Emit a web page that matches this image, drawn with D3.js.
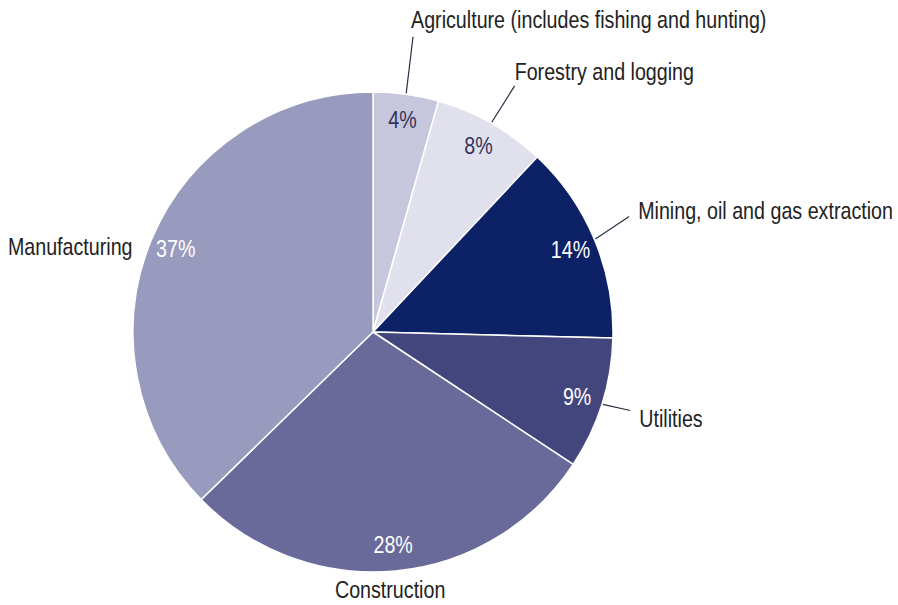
<!DOCTYPE html>
<html>
<head>
<meta charset="utf-8">
<script src="https://cdn.jsdelivr.net/npm/d3@7"></script>
<style>
  html, body { margin: 0; padding: 0; background: #ffffff; }
  svg text { font-family: "Liberation Sans Narrow", "Arial Narrow", "Liberation Sans", Arial, sans-serif; }
</style>
</head>
<body>
<svg id="chart" width="898" height="605"></svg>
<script>
// ---- data ----
const categories = [
  "Agriculture (includes fishing and hunting)",
  "Forestry and logging",
  "Mining, oil and gas extraction",
  "Utilities",
  "Construction",
  "Manufacturing"
];
const values = [4.4, 7.6, 13.4, 8.9, 28.4, 37.3];
const percentLabels = ["4%", "8%", "14%", "9%", "28%", "37%"];
const colors = ["#c6c6dc", "#e1e1ee", "#0d2166", "#43467d", "#696a9a", "#989bbe"];
const percentColors = ["#33335a", "#33335a", "#ffffff", "#ffffff", "#ffffff", "#ffffff"];

// ---- layout ----
const cx = 373, cy = 332, R = 240;
const squeeze = 0.82; // condensed text look
// per-slice label layout: leader line end radius (null = no leader), angle nudge (deg), text dx, dy, anchor
const labelLayout = [
  { lineR: 298, nudge: -0.2, dx: -2, dy: -9, anchor: "start" },
  { lineR: 284, nudge: 0.4, dx: 0, dy: -6, anchor: "start" },
  { lineR: 281, nudge: -1.6, dx: 9, dy: 3, anchor: "start" },
  { lineR: 269, nudge: -0.5, dx: 9, dy: 17, anchor: "start" },
  { lineR: null, textR: 258.6, nudge: 1.6, dx: 0, dy: 8, anchor: "middle" },
  { lineR: null, textR: 255, nudge: -3.4, dx: 0, dy: 8, anchor: "end" }
];

const svg = d3.select("#chart");
const g = svg.append("g").attr("transform", `translate(${cx},${cy})`);

const pie = d3.pie().sort(null).value(d => d)(values);
const arc = d3.arc().innerRadius(0).outerRadius(R);
const labelArc = d3.arc().innerRadius(214).outerRadius(214);

g.selectAll("path.slice")
  .data(pie)
  .join("path")
  .attr("class", "slice")
  .attr("d", arc)
  .attr("fill", (d, i) => colors[i])
  .attr("stroke", "#ffffff")
  .attr("stroke-width", 1.5)
  .attr("stroke-linejoin", "round");

g.selectAll("text.pct")
  .data(pie)
  .join("text")
  .attr("class", "pct")
  .attr("transform", d => {
    const c = labelArc.centroid(d);
    return `translate(${c[0]},${c[1]}) scale(${squeeze},1)`;
  })
  .attr("dy", "0.35em")
  .attr("text-anchor", "middle")
  .attr("font-size", 24)
  .attr("fill", (d, i) => percentColors[i])
  .text((d, i) => percentLabels[i]);

function polar(r, ang) { return [r * Math.sin(ang), -r * Math.cos(ang)]; }

pie.forEach((d, i) => {
  const L = labelLayout[i];
  const mid = (d.startAngle + d.endAngle) / 2;
  const a2 = mid + L.nudge * Math.PI / 180;
  let tx, ty;
  if (L.lineR) {
    const p1 = polar(R + 1, mid);
    const p2 = polar(L.lineR, a2);
    g.append("line")
      .attr("x1", p1[0]).attr("y1", p1[1])
      .attr("x2", p2[0]).attr("y2", p2[1])
      .attr("stroke", "#2b2b45")
      .attr("stroke-width", 1.2);
    tx = p2[0] + L.dx; ty = p2[1] + L.dy;
  } else {
    const p = polar(L.textR, a2);
    tx = p[0] + L.dx; ty = p[1] + L.dy;
  }
  g.append("text")
    .attr("transform", `translate(${tx},${ty}) scale(${squeeze},1)`)
    .attr("text-anchor", L.anchor)
    .attr("font-size", 24)
    .attr("fill", "#222222")
    .text(categories[i]);
});
</script>
</body>
</html>
